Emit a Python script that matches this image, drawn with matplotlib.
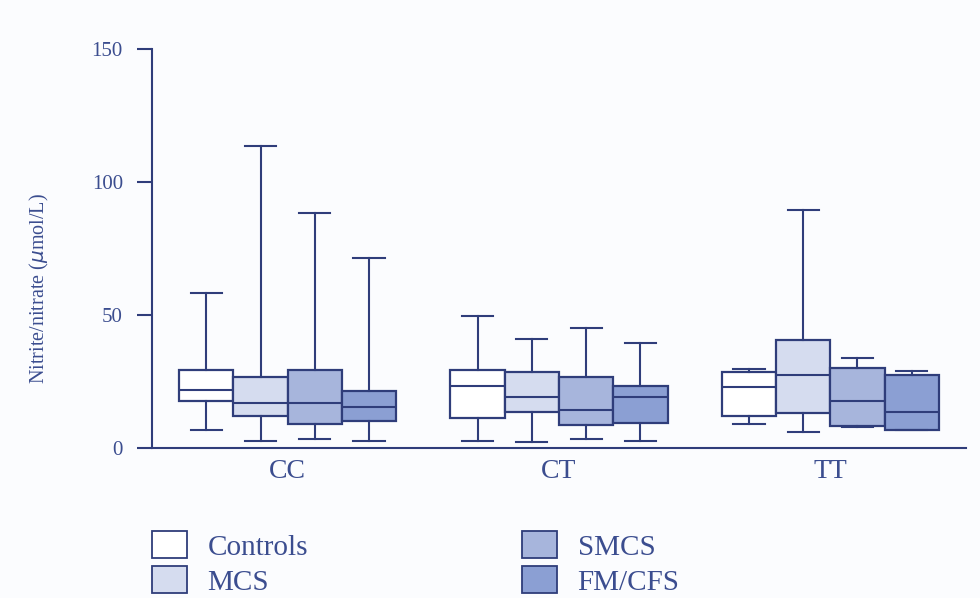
import matplotlib
matplotlib.use("Agg")
import matplotlib.pyplot as plt
from matplotlib.patches import Patch

# values (umol/L)
groups = ["CC", "CT", "TT"]
series = ["Controls", "MCS", "SMCS", "FM/CFS"]

whislo = {
    "Controls": [6.6, 2.6, 9.0],
    "MCS": [2.6, 2.1, 6.1],
    "SMCS": [3.3, 3.3, 7.9],
    "FM/CFS": [2.6, 2.6, 6.8],
}
q1 = {
    "Controls": [17.7, 11.4, 11.9],
    "MCS": [12.0, 13.5, 13.3],
    "SMCS": [9.0, 8.5, 8.4],
    "FM/CFS": [10.3, 9.5, 6.8],
}
med = {
    "Controls": [21.7, 23.3, 22.8],
    "MCS": [17.0, 19.3, 27.4],
    "SMCS": [17.0, 14.2, 17.5],
    "FM/CFS": [15.5, 19.3, 13.6],
}
q3 = {
    "Controls": [29.2, 29.2, 28.5],
    "MCS": [26.8, 28.5, 40.5],
    "SMCS": [29.2, 26.7, 30.1],
    "FM/CFS": [21.5, 23.2, 27.3],
}
whishi = {
    "Controls": [58.3, 49.7, 29.6],
    "MCS": [113.5, 41.1, 89.5],
    "SMCS": [88.3, 45.1, 33.7],
    "FM/CFS": [71.4, 39.5, 28.9],
}

fills = {"Controls": "#ffffff", "MCS": "#d5dcef", "SMCS": "#a7b5dc", "FM/CFS": "#8b9fd3"}
edge = "#2f3d7a"
txt = "#3b4d8f"
bg = "#fbfcfe"

plt.rcParams["font.family"] = ["Liberation Serif", "DejaVu Serif"]

fig = plt.figure(figsize=(9.8, 5.98), dpi=100, facecolor=bg)
ax = fig.add_axes([0.1551, 0.2508, 0.8306, 0.667], facecolor=bg)

width = 0.2
offsets = [-0.3, -0.1, 0.1, 0.3]
for s, off in zip(series, offsets):
    stats = []
    for i in range(len(groups)):
        stats.append({
            "whislo": whislo[s][i], "q1": q1[s][i], "med": med[s][i],
            "q3": q3[s][i], "whishi": whishi[s][i], "fliers": [],
        })
    pos = [i + off for i in range(len(groups))]
    ax.bxp(stats, positions=pos, widths=width, patch_artist=True,
           showfliers=False,
           boxprops=dict(facecolor=fills[s], edgecolor=edge, linewidth=1.6),
           medianprops=dict(color=edge, linewidth=1.5),
           whiskerprops=dict(color=edge, linewidth=1.5),
           capprops=dict(color=edge, linewidth=1.5),
           capwidths=0.115, manage_ticks=False)

ax.set_xlim(-0.5, 2.5)
ax.set_ylim(0, 150)
ax.set_xticks(range(len(groups)))
ax.set_xticklabels(groups)
ax.set_yticks([0, 50, 100, 150])

for side in ["top", "right"]:
    ax.spines[side].set_visible(False)
for side in ["left", "bottom"]:
    ax.spines[side].set_color(edge)
    ax.spines[side].set_linewidth(1.5)

ax.tick_params(axis="y", direction="out", length=11, width=1.5, color=edge,
               labelsize=15, labelcolor=txt, pad=10)
ax.tick_params(axis="x", length=0, labelsize=20, labelcolor=txt, pad=8)
ax.set_ylabel("Nitrite/nitrate ($\\mu$mol/L)", fontsize=14.5, color=txt)
ax.yaxis.set_label_coords(-0.124, 0.40)

handles = [Patch(facecolor=fills[s], edgecolor=edge, linewidth=1.3) for s in series]
fig.legend(handles, series, loc="upper left", bbox_to_anchor=(0.155, 0.112),
           ncol=2, frameon=False, fontsize=21, labelcolor=txt,
           handlelength=1.2, handleheight=1.05, handletextpad=0.7,
           columnspacing=7.35, labelspacing=0.2, borderaxespad=0,
           borderpad=0)

fig.savefig("out.png", dpi=100, facecolor=bg)
